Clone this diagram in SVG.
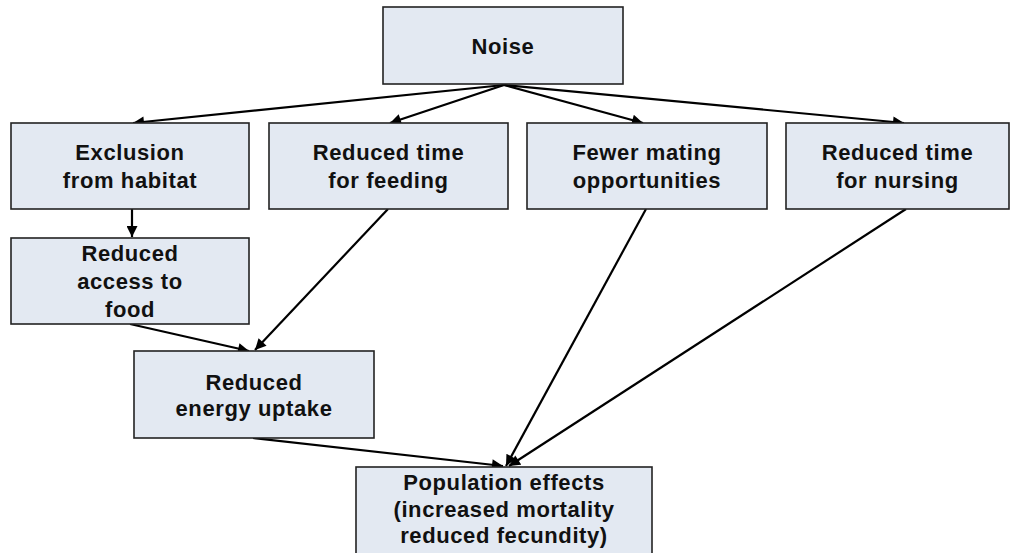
<svg xmlns="http://www.w3.org/2000/svg" width="1013" height="553" viewBox="0 0 1013 553">
<style>
.box{fill:#e3e9f2;stroke:#222;stroke-width:1.6}
.t{font-family:"Liberation Sans",Arial,sans-serif;font-weight:bold;font-size:22px;letter-spacing:0.6px;fill:#111;text-anchor:middle}
.c{stroke:#000;stroke-width:2.2;fill:none;marker-end:url(#ah)}
</style>
<defs>
<marker id="ah" viewBox="0 0 10 10" refX="10" refY="5" markerWidth="5.5" markerHeight="5" orient="auto" markerUnits="strokeWidth">
<path d="M0,0 L10,5 L0,10 z" fill="#000"/>
</marker>
</defs>
<rect width="1013" height="553" fill="#fff"/>
<g id="connectors">
<line class="c" x1="504" y1="85" x2="133" y2="123"/>
<line class="c" x1="504" y1="85" x2="390" y2="123"/>
<line class="c" x1="504" y1="85" x2="643" y2="123"/>
<line class="c" x1="504" y1="85" x2="904" y2="123"/>
<line class="c" x1="132" y1="209" x2="132" y2="237"/>
<line class="c" x1="130" y1="324" x2="249" y2="351"/>
<line class="c" x1="388" y1="209" x2="255" y2="350"/>
<line class="c" x1="253" y1="438" x2="503" y2="466"/>
<line class="c" x1="646" y1="209" x2="506" y2="466"/>
<line class="c" x1="906" y1="209" x2="509" y2="466"/>
</g>
<g id="noise">
<rect class="box" x="383" y="7" width="240" height="77"/>
<text class="t" x="503" y="54">Noise</text>
</g>
<g id="exclusion">
<rect class="box" x="11" y="123" width="238" height="86"/>
<text class="t" x="130" y="160">Exclusion</text>
<text class="t" x="130" y="188">from habitat</text>
</g>
<g id="feeding">
<rect class="box" x="269" y="123" width="239" height="86"/>
<text class="t" x="388.5" y="160">Reduced time</text>
<text class="t" x="388.5" y="188">for feeding</text>
</g>
<g id="mating">
<rect class="box" x="527" y="123" width="240" height="86"/>
<text class="t" x="647" y="160">Fewer mating</text>
<text class="t" x="647" y="188">opportunities</text>
</g>
<g id="nursing">
<rect class="box" x="786" y="123" width="223" height="86"/>
<text class="t" x="897.5" y="160">Reduced time</text>
<text class="t" x="897.5" y="188">for nursing</text>
</g>
<g id="access">
<rect class="box" x="11" y="238" width="238" height="86"/>
<text class="t" x="130" y="261">Reduced</text>
<text class="t" x="130" y="289">access to</text>
<text class="t" x="130" y="317">food</text>
</g>
<g id="energy">
<rect class="box" x="134" y="351" width="240" height="87"/>
<text class="t" x="254" y="390">Reduced</text>
<text class="t" x="254" y="416">energy uptake</text>
</g>
<g id="population">
<rect class="box" x="356" y="467" width="296" height="92"/>
<text class="t" x="504" y="490">Population effects</text>
<text class="t" x="504" y="517">(increased mortality</text>
<text class="t" x="504" y="543">reduced fecundity)</text>
</g>
</svg>
